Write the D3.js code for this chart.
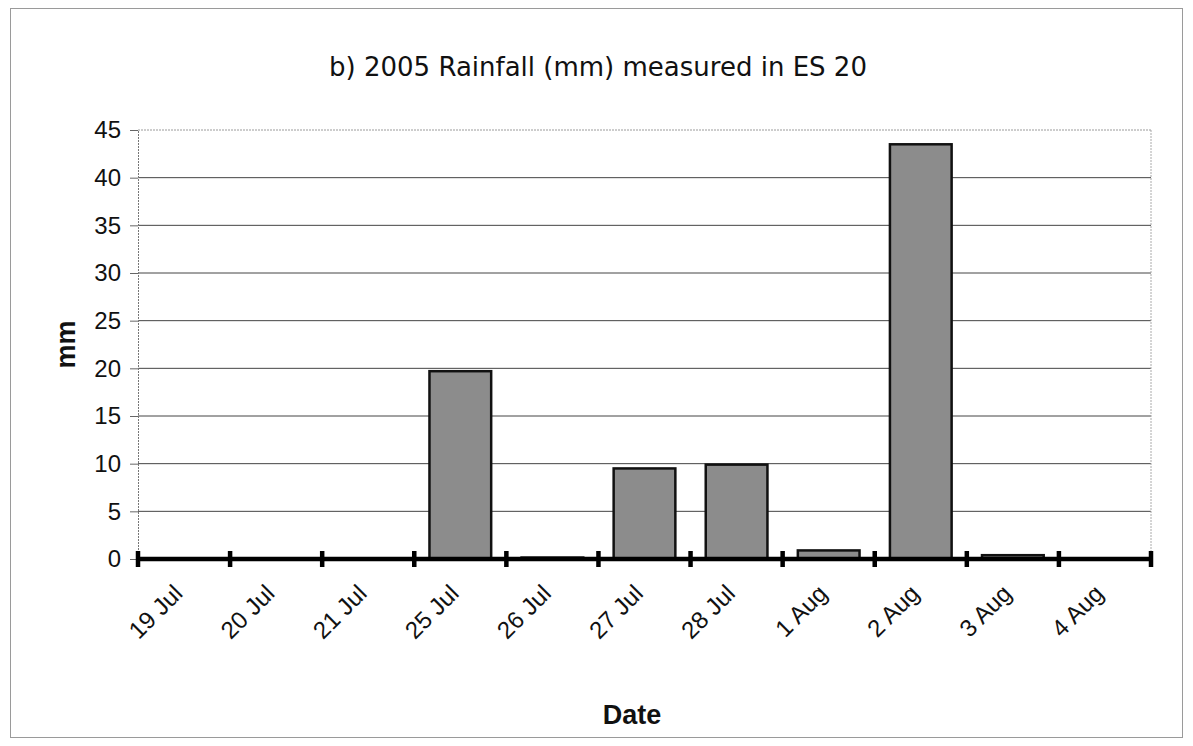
<!DOCTYPE html>
<html><head><meta charset="utf-8">
<script src="https://cdn.jsdelivr.net/npm/d3@7"></script>
<style>body{margin:0;background:#fff}svg{display:block}</style>
</head><body>
<svg id="c" width="1193" height="746"></svg>
<script>
const categories = ["19 Jul","20 Jul","21 Jul","25 Jul","26 Jul","27 Jul","28 Jul","1 Aug","2 Aug","3 Aug","4 Aug"];
const rainfall = [0,0,0,19.7,0.15,9.5,9.9,0.9,43.5,0.4,0];
const yTicks = [0,5,10,15,20,25,30,35,40,45];
const title = "b) 2005 Rainfall (mm) measured in ES 20";
const xTitle = "Date";
const yTitle = "mm";

const svg = d3.select("#c");
const m = {l:138, r:1151, t:130, b:559};
svg.append("rect").attr("x",10.5).attr("y",8.5).attr("width",1172).attr("height",729)
  .attr("fill","#fff").attr("stroke","#9a9a9a").attr("stroke-width",1);

const x = d3.scaleBand().domain(categories).range([m.l,m.r]).paddingInner(0.33).paddingOuter(0.165);
const xb = d3.scaleBand().domain(categories).range([m.l,m.r]);
const y = d3.scaleLinear().domain([0,45]).range([m.b,m.t]);

// gridlines
svg.append("g").selectAll("line").data(yTicks.filter(d=>d>0)).join("line")
  .attr("x1",m.l).attr("x2",m.r).attr("y1",d=>y(d)).attr("y2",d=>y(d))
  .attr("stroke",d=>d===45?"#9a9a9a":"#444").attr("stroke-width",1)
  .attr("stroke-dasharray",d=>d===45?"2,1":null);
// right border dotted
svg.append("line").attr("x1",m.r).attr("x2",m.r).attr("y1",m.t).attr("y2",m.b)
  .attr("stroke","#aaa").attr("stroke-dasharray","2,1");

// y axis
const ya = svg.append("g").attr("transform",`translate(${m.l},0)`)
  .call(d3.axisLeft(y).tickValues(yTicks).tickSize(8).tickPadding(9));
ya.select(".domain").attr("stroke","#777").attr("stroke-dasharray","2,1");
ya.selectAll(".tick line").attr("stroke","#666");
ya.selectAll("text").attr("font-family","'Liberation Sans', Arial, sans-serif").attr("font-size",24).attr("fill","#111");

// bars
svg.append("g").selectAll("rect").data(categories).join("rect")
  .attr("x",d=>x(d)).attr("width",x.bandwidth())
  .attr("y",(d,i)=>y(rainfall[i])).attr("height",(d,i)=>y(0)-y(rainfall[i]))
  .attr("fill","#8c8c8c").attr("stroke","#111").attr("stroke-width",2.5);

// x axis (thick) with cross ticks at band boundaries
const xa = svg.append("g");
xa.append("line").attr("x1",m.l).attr("x2",m.r).attr("y1",y(0)).attr("y2",y(0))
  .attr("stroke","#000").attr("stroke-width",4.5);
const bounds = categories.map(c=>xb(c)).concat([m.r]);
xa.selectAll("line.t").data(bounds).join("line").attr("class","t")
  .attr("x1",d=>d).attr("x2",d=>d).attr("y1",y(0)-8).attr("y2",y(0)+8)
  .attr("stroke","#000").attr("stroke-width",4.5);
xa.selectAll("text").data(categories).join("text")
  .attr("transform",d=>`translate(${xb(d)+xb.bandwidth()/2},${y(0)+36}) rotate(-45)`)
  .attr("text-anchor","end").attr("font-family","'Liberation Sans', Arial, sans-serif")
  .attr("font-size",24).attr("fill","#111").text(d=>d);

// titles
svg.append("text").attr("x",598).attr("y",76).attr("text-anchor","middle")
  .attr("font-family","'DejaVu Sans', 'Open Sans', sans-serif").attr("font-size",26).attr("fill","#111").text(title);
svg.append("text").attr("x",632).attr("y",724).attr("text-anchor","middle")
  .attr("font-family","'Liberation Sans', Arial, sans-serif").attr("font-weight","bold").attr("font-size",27).attr("fill","#111").text(xTitle);
svg.append("text").attr("transform",`translate(75,${(m.t+m.b)/2}) rotate(-90)`).attr("text-anchor","middle")
  .attr("font-family","'Liberation Sans', Arial, sans-serif").attr("font-weight","bold").attr("font-size",27).attr("fill","#111").text(yTitle);
</script>
</body></html>
